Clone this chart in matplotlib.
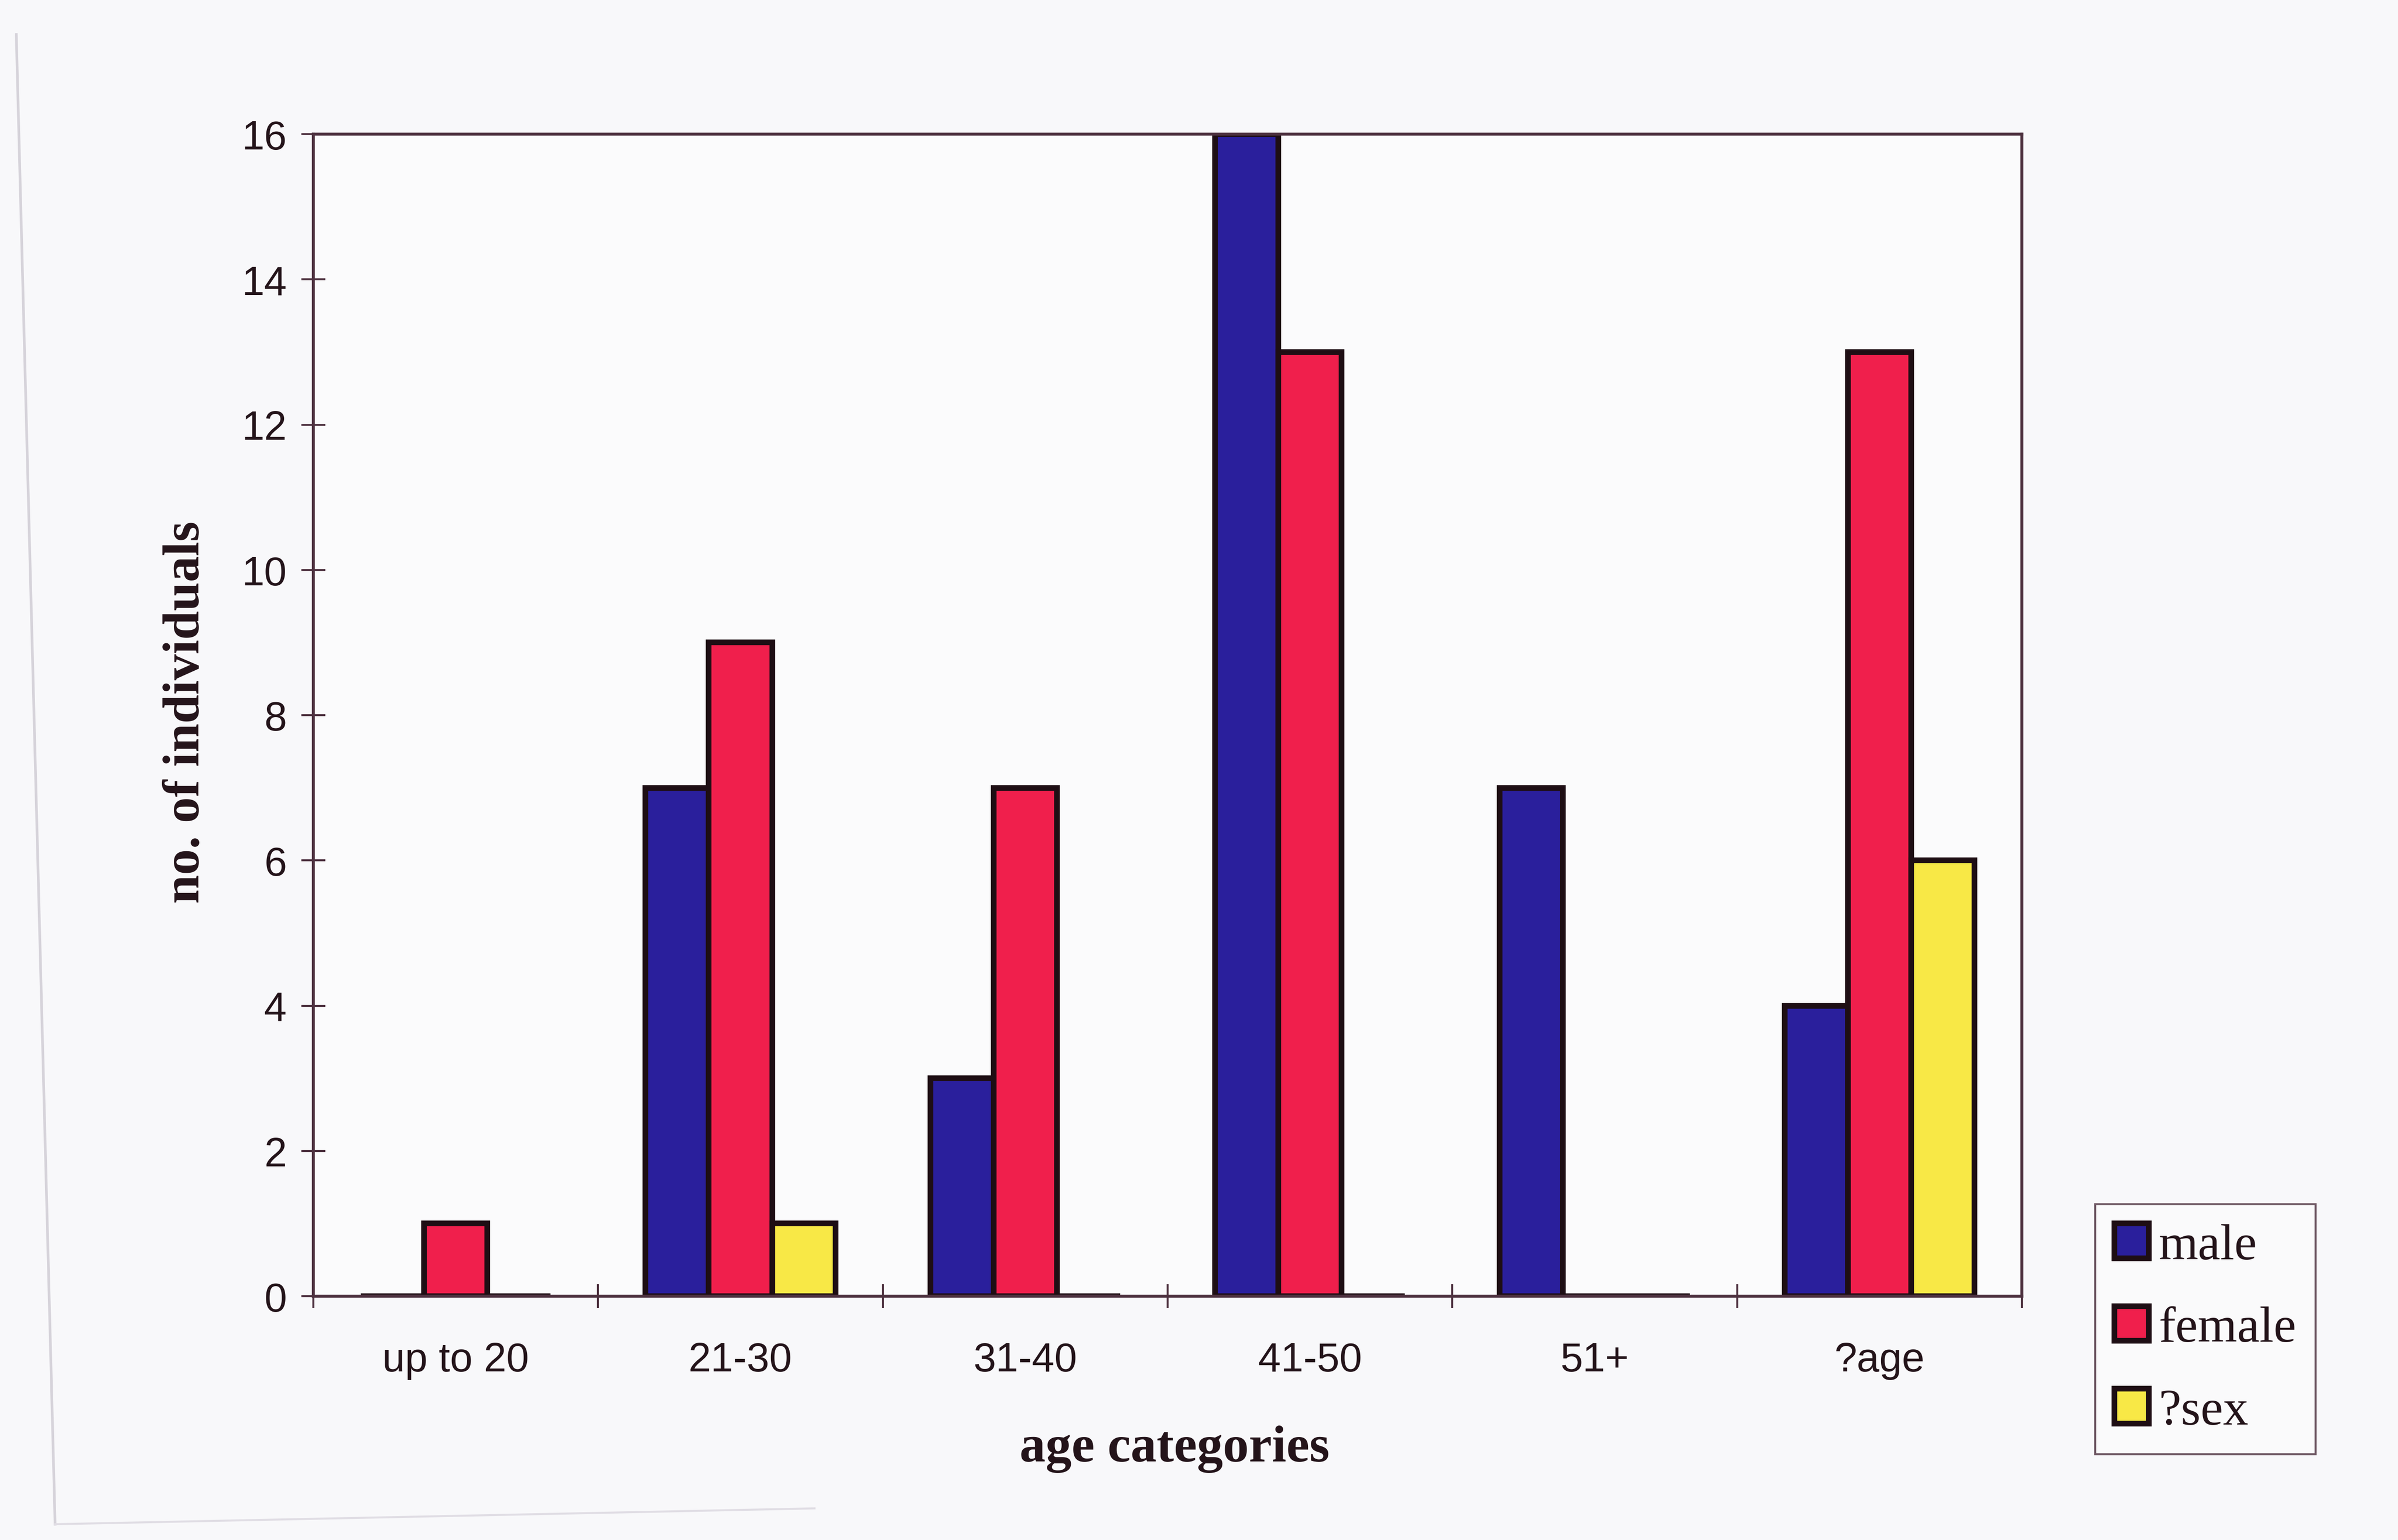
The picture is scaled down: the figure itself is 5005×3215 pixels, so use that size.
import matplotlib
matplotlib.use("Agg")
import matplotlib.pyplot as plt
import numpy as np
from matplotlib.lines import Line2D

# Age categories and counts per sex group
categories = ["up to 20", "21-30", "31-40", "41-50", "51+", "?age"]
male = [0, 7, 3, 16, 7, 4]
female = [1, 9, 7, 13, 0, 13]
unknown_sex = [0, 1, 0, 0, 0, 6]
series_names = ["male", "female", "?sex"]
y_ticks = [0, 2, 4, 6, 8, 10, 12, 14, 16]

colors = ["#2a1f9c", "#f01f4c", "#f8e846"]
edge = "#1e0e14"
ink = "#24141a"
spine_col = "#4e3240"

W, H, DPI = 5005, 3216, 100
fig = plt.figure(figsize=(W / DPI, H / DPI), dpi=DPI, facecolor="#f8f8fa")

ax = fig.add_axes([654 / W, 1 - 2707 / H, (4220 - 654) / W, (2707 - 281) / H])
ax.set_facecolor("#fbfbfc")

x = np.arange(len(categories))
bw = 1 / 4.5
for k, (vals, name, c) in enumerate(zip([male, female, unknown_sex], series_names, colors)):
    ax.bar(x + (k - 1) * bw, vals, width=bw, color=c, edgecolor=edge,
           linewidth=8.5, label=name, zorder=3)

ax.set_xlim(-0.5, len(categories) - 0.5)
ax.set_ylim(0, 16)
ax.set_yticks(y_ticks)
ax.set_yticklabels([str(v) for v in y_ticks], fontfamily="Liberation Sans",
                   fontsize=61, color=ink)

# category labels centred under each group, tick marks between groups
ax.set_xticks(np.arange(len(categories) + 1) - 0.5)
ax.set_xticklabels([])
ax.set_xticks(x, minor=True)
ax.set_xticklabels(categories, minor=True, fontfamily="Liberation Sans",
                   fontsize=61, color=ink)
ax.tick_params(axis="x", which="minor", length=0, pad=68)
ax.tick_params(axis="x", which="major", direction="inout", length=36,
               width=3, color=spine_col)
ax.tick_params(axis="y", direction="inout", length=36, width=3,
               color=spine_col, pad=22)

for s in ax.spines.values():
    s.set_color(spine_col)
    s.set_linewidth(4.5)
    s.set_zorder(4)

fig.text(389 / W, 1 - 1487 / H, "no. of individuals", rotation=90,
         ha="center", va="center", fontfamily="Liberation Serif",
         fontweight="bold", fontsize=78, color=ink)
fig.text(2451 / W, 1 - 3026 / H, "age categories", ha="center", va="center",
         fontfamily="Liberation Serif", fontweight="bold", fontsize=78, color=ink)

leg = fig.legend(loc="upper left", bbox_to_anchor=(4373 / W, 1 - 2515 / H),
                 prop={"family": "Liberation Serif", "size": 76},
                 frameon=True, fancybox=False, handlelength=0.68,
                 handleheight=0.68, handletextpad=0.2, labelspacing=0.72,
                 borderpad=0.38, borderaxespad=0)
leg.get_frame().set_edgecolor(spine_col)
leg.get_frame().set_linewidth(3)
leg.get_frame().set_facecolor("#fbfbfc")
for t in leg.get_texts():
    t.set_color(ink)
for p in leg.get_patches():
    p.set_linewidth(8.5)

# faint page border
fig.add_artist(Line2D([34 / W, 115 / W], [1 - 73 / H, 1 - 3183 / H],
                      transform=fig.transFigure, color="#d6d3da", lw=4))
fig.add_artist(Line2D([115 / W, 1700 / W], [1 - 3183 / H, 1 - 3150 / H],
                      transform=fig.transFigure, color="#e0dde4", lw=3))

fig.savefig("out.png", dpi=DPI, facecolor=fig.get_facecolor())
